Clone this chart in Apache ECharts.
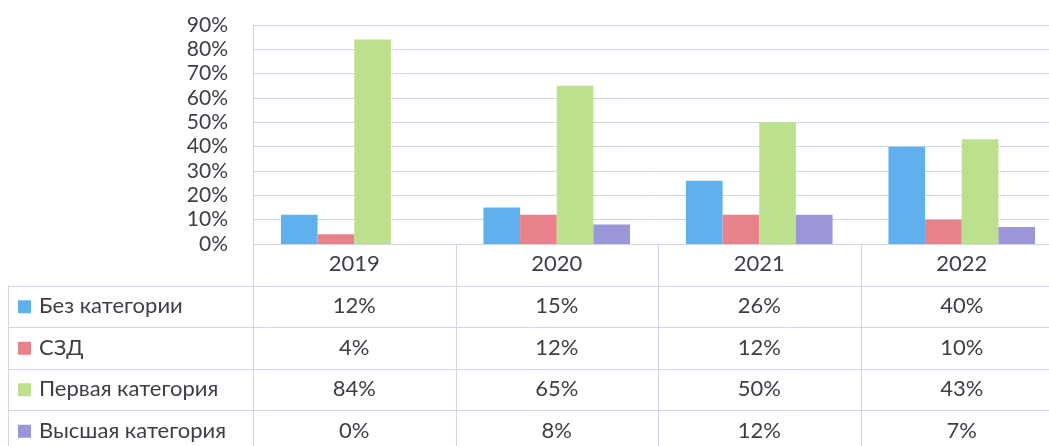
<!DOCTYPE html>
<html>
<head>
<meta charset="utf-8">
<script src="https://cdn.jsdelivr.net/npm/echarts@6/dist/echarts.min.js"></script>
<style>
	html, body { margin: 0; padding: 0; background: #fff; }
	#main { width: 1049px; height: 446px; }
</style>
</head>
<body>
<div id="main"></div>
<script>
	var years = ['2019', '2020', '2021', '2022'];
	var names = ['Без категории', 'СЗД', 'Первая категория', 'Высшая категория'];
	var bezKat = [12, 15, 26, 40];
	var szd = [4, 12, 12, 10];
	var pervaya = [84, 65, 50, 43];
	var vysshaya = [0, 8, 12, 7];
	var colors = ['#5fb0ec', '#e8828a', '#bde08e', '#9b96d8'];

	var lineColor = '#d3d5e6';
	var textColor = '#3e3e48';
	var font = 'Lato, "Open Sans", sans-serif';

	var W = 1049, gridLeft = 253, gridRight = -14, gridTop = 25, axisY = 244;
	var rowH = 41.5;

	var myChart = echarts.init(document.getElementById('main'));

	var values = [bezKat, szd, pervaya, vysshaya];
	var series = [];
	for (var s = 0; s < names.length; s++) {
		series.push({
			name: names[s],
			type: 'bar',
			barGap: '0%',
			barCategoryGap: '27.6%',
			itemStyle: { color: colors[s] },
			data: values[s]
		});
	};

	// таблица данных под графиком
	var colW = (W - gridLeft - gridRight) / years.length;
	var graphic = [];
	function hline(x1, x2, y) {
		graphic.push({ type: 'line', shape: { x1: x1, y1: y, x2: x2, y2: y }, style: { stroke: lineColor, lineWidth: 1 } });
	}
	function vline(x, y1, y2) {
		graphic.push({ type: 'line', shape: { x1: x, y1: y1, x2: x, y2: y2 }, style: { stroke: lineColor, lineWidth: 1 } });
	}
	for (var r = 1; r <= names.length; r++) {
		hline(8, W, Math.round(axisY + r * rowH) + 0.5);
	};
	vline(8.5, axisY + rowH, 446);
	for (var c = 0; c <= years.length; c++) {
		vline(Math.round(gridLeft + c * colW) + 0.5, axisY, 446);
	};
	for (var r = 0; r < names.length; r++) {
		var cy = axisY + (r + 1.5) * rowH;
		graphic.push({
			type: 'rect',
			shape: { x: 18, y: cy - 6, width: 13, height: 13 },
			style: { fill: colors[r] }
		});
		graphic.push({
			type: 'text',
			x: 39, y: cy,
			style: { text: names[r], font: '22px ' + font, fill: textColor, verticalAlign: 'middle', textAlign: 'left' }
		});
		for (var c = 0; c < years.length; c++) {
			graphic.push({
				type: 'text',
				x: gridLeft + (c + 0.5) * colW, y: cy,
				style: { text: values[r][c] + '%', font: '22px ' + font, fill: textColor, verticalAlign: 'middle', textAlign: 'center' }
			});
		};
	};

	var option = {
		animation: false,
		grid: {
			left: gridLeft,
			right: gridRight,
			top: gridTop,
			bottom: 446 - axisY,
			outerBoundsMode: 'none',
			containLabel: false
		},
		xAxis: [{
			type: 'category',
			data: years,
			axisTick: { show: false },
			axisLine: { lineStyle: { color: lineColor, width: 1 } },
			axisLabel: {
				color: textColor,
				fontFamily: font,
				fontSize: 22,
				margin: 9
			}
		}],
		yAxis: [{
			type: 'value',
			min: 0,
			max: 90,
			interval: 10,
			axisLine: { show: true, lineStyle: { color: lineColor, width: 1 } },
			axisTick: { show: false },
			axisLabel: {
				formatter: function(val) {
					return val + '%';
				},
				color: textColor,
				fontFamily: font,
				fontSize: 21,
				margin: 25
			},
			splitLine: { show: true, lineStyle: { color: lineColor, width: 1 } }
		}],
		series: series,
		graphic: graphic
	};
	myChart.setOption(option);
</script>
</body>
</html>
